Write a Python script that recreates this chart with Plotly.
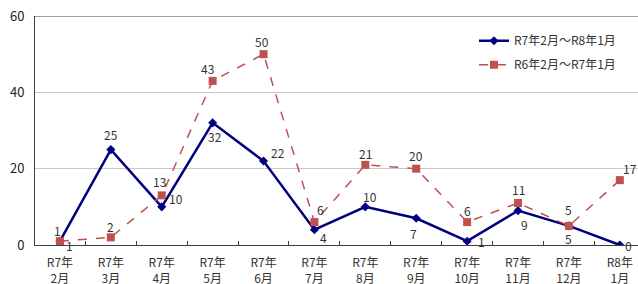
import plotly.graph_objects as go

categories = ["R7年<br>2月", "R7年<br>3月", "R7年<br>4月", "R7年<br>5月", "R7年<br>6月", "R7年<br>7月",
              "R7年<br>8月", "R7年<br>9月", "R7年<br>10月", "R7年<br>11月", "R7年<br>12月", "R8年<br>1月"]
series_cur_name = "R7年2月～R8年1月"
series_cur = [1, 25, 10, 32, 22, 4, 10, 7, 1, 9, 5, 0]
series_prev_name = "R6年2月～R7年1月"
series_prev = [1, 2, 13, 43, 50, 6, 21, 20, 6, 11, 5, 17]

# label offsets (px) - styling only
cur_off = [(10, 4), (0, -15), (14, -8), (2, 14), (14, -9), (9, 8), (5, -10), (-3, 15), (14, 0), (6, 14), (0, 13), (9, 0)]
prev_off = [(-2, -11), (0, -11), (-2, -14), (-5, -12), (-2, -13), (6, -13), (0, -11), (0, -13), (0, -12), (0, -14), (0, -16), (10, -12)]

FONT = "Noto Sans CJK JP"
NAVY = "#000080"
RED = "#C0504D"

fig = go.Figure()
fig.add_trace(go.Scatter(x=list(range(len(categories))), y=series_cur, name=series_cur_name,
                         legendgroup="a",
                         mode="lines+markers", line=dict(color=NAVY, width=2.5),
                         marker=dict(symbol="diamond", size=7, color=NAVY)))
fig.add_trace(go.Scatter(x=list(range(len(categories))), y=series_prev, name=series_prev_name,
                         legendgroup="b",
                         mode="lines+markers", line=dict(color=RED, width=1.5, dash="dash"),
                         marker=dict(symbol="square", size=8, color=RED)))

annotations = []
for vals, offs in ((series_cur, cur_off), (series_prev, prev_off)):
    for i, (v, (dx, dy)) in enumerate(zip(vals, offs)):
        annotations.append(dict(x=i, y=v, xref="x", yref="y", text=str(v), showarrow=False,
                                xshift=dx, yshift=-dy, font=dict(family=FONT, size=12, color="#333333")))

fig.update_layout(
    width=638, height=284,
    margin=dict(l=35, r=0, t=16, b=39, autoexpand=False),
    paper_bgcolor="white", plot_bgcolor="white",
    font=dict(family=FONT, size=12, color="#333333"),
    showlegend=True,
    legend=dict(x=0.728, y=0.955, xanchor="left", yanchor="top", bgcolor="rgba(0,0,0,0)",
                font=dict(family=FONT, size=12, color="#333333"), tracegroupgap=5,
                itemwidth=30),
    annotations=annotations,
    shapes=[dict(type="line", xref="paper", yref="y", x0=0, x1=1, y0=60, y1=60,
                 line=dict(color="#404040", width=1))],
)
fig.update_xaxes(
    tickmode="array", tickvals=list(range(len(categories))), ticktext=categories,
    range=[-0.49, 11.357], showgrid=False, zeroline=False, automargin=False,
    showline=True, linecolor="#404040", linewidth=1, ticklabelstandoff=7,
    ticks="", tickfont=dict(family=FONT, size=12, color="#333333"), ticklabeloverflow="allow",
)
fig.update_xaxes(minor=dict(tickmode="array", tickvals=[i + 0.5 for i in range(len(categories) - 1)],
                            ticks="inside", ticklen=4, tickcolor="#404040", showgrid=False))
fig.update_yaxes(
    range=[0, 60], tickvals=[0, 20, 40, 60], showgrid=True, gridcolor="#c8c8c8", gridwidth=1,
    zeroline=False, showline=True, linecolor="#404040", linewidth=1, ticks="", automargin=False,
    ticklabelstandoff=7, ticklabeloverflow="allow",
    tickfont=dict(family=FONT, size=13, color="#222222"),
)
fig.write_html("out.html", config={"displayModeBar": False},
               post_script="document.body.style.margin='0';document.body.style.overflow='hidden';")
